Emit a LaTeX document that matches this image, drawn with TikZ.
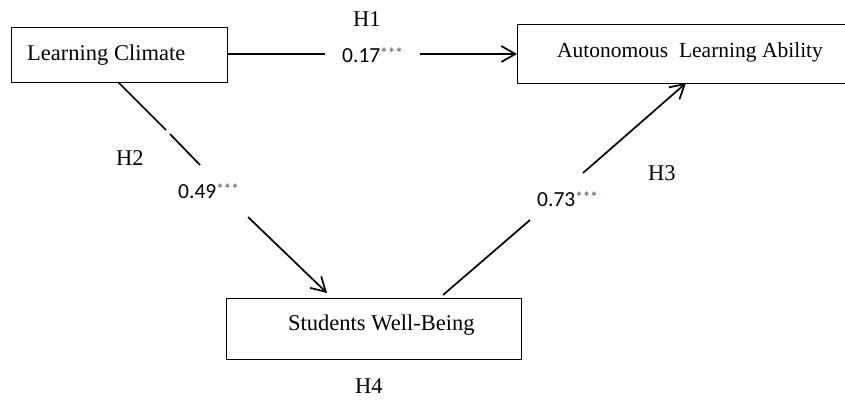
\documentclass[tikz,border=0pt]{standalone}
\usepackage{fontspec}
\setmainfont{Liberation Serif}
\newfontfamily\numfont{Carlito}
\usetikzlibrary{arrows.meta}
\definecolor{starc}{RGB}{70,70,95}
\newcommand\mystars{{\color{starc}\fontsize{15}{15}\selectfont\raisebox{4pt}{***}}}
\begin{document}
\begin{tikzpicture}[x=1pt,y=-1pt,
  box/.style={draw, line width=1.3pt, inner sep=0pt, anchor=north west},
  lbl/.style={font=\fontsize{22.5}{24}\selectfont, inner sep=0pt, anchor=base west},
  coef/.style={font=\numfont\fontsize{21.5}{24}\selectfont, inner sep=0pt, anchor=base west},
  conn/.style={line width=1.7pt},
  arr/.style={conn, -{Straight Barb[length=14pt,width=16pt]}}]
\useasboundingbox (0,0) rectangle (845,399);
% boxes
\node[box, minimum width=216pt, minimum height=55pt] (lc) at (11,27) {};
\node[box, minimum width=332pt, minimum height=59pt] (al) at (517,24) {};
\node[box, minimum width=295pt, minimum height=61pt] (sw) at (226,298) {};
\node[lbl] (lct) at (27,60) {Learning Climate};
\node[lbl, font=\fontsize{21.5}{24}\selectfont] (alt) at (557,57) {Autonomous\ \ Learning Ability};
\node[lbl] (swt) at (288,330) {Students Well-Being};
% H1 connector
\coordinate (h1a) at (325,54);
\coordinate (h1b) at (420,54);
\draw[conn] (lc.east |- h1a) -- (h1a);
\draw[arr] (h1b) -- (al.west |- h1b);
% H2 connector
\coordinate (h2s) at (118,82);
\coordinate (h2a) at (166,130);
\coordinate (h2b) at (170,134);
\coordinate (h2c) at (200,165);
\coordinate (h2d) at (248,217);
\coordinate (h2e) at (327,293);
\draw[conn] (h2s) -- (h2a);
\draw[conn] (h2b) -- (h2c);
\draw[arr] (h2d) -- (h2e);
% H3 connector
\coordinate (h3s) at (443,295);
\coordinate (h3a) at (530,220);
\coordinate (h3b) at (583,173);
\coordinate (h3e) at (686,83);
\draw[conn] (h3s) -- (h3a);
\draw[arr] (h3b) -- (h3e);
% labels
\node[lbl] (H1) at (353,26) {H1};
\node[lbl] (H2) at (116,165) {H2};
\node[lbl] (H3) at (648,180) {H3};
\node[lbl] (H4) at (355,393) {H4};
\node[coef] (c1) at (342,62) {0.17\mystars};
\node[coef] (c2) at (178,198) {0.49\mystars};
\node[coef] (c3) at (537,206) {0.73\mystars};
\end{tikzpicture}
\end{document}
